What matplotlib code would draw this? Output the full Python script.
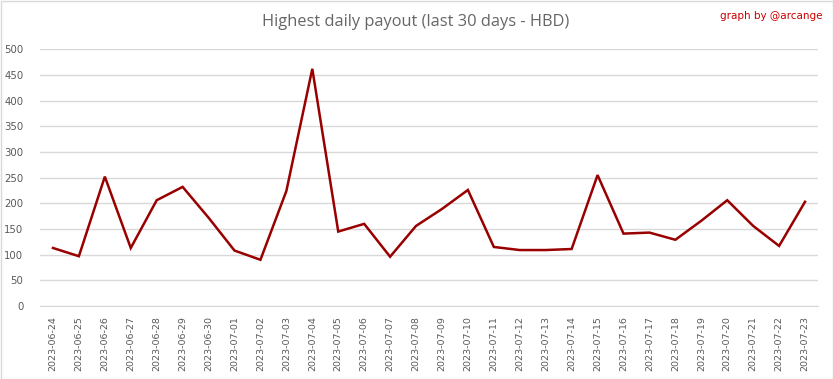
import matplotlib
matplotlib.use("Agg")
import matplotlib.pyplot as plt
from matplotlib.patches import Rectangle

dates = ["2023-06-24", "2023-06-25", "2023-06-26", "2023-06-27", "2023-06-28", "2023-06-29",
         "2023-06-30", "2023-07-01", "2023-07-02", "2023-07-03", "2023-07-04", "2023-07-05",
         "2023-07-06", "2023-07-07", "2023-07-08", "2023-07-09", "2023-07-10", "2023-07-11",
         "2023-07-12", "2023-07-13", "2023-07-14", "2023-07-15", "2023-07-16", "2023-07-17",
         "2023-07-18", "2023-07-19", "2023-07-20", "2023-07-21", "2023-07-22", "2023-07-23"]
payout = [113, 97, 252, 113, 206, 232, 172, 108, 90, 224, 462, 145, 160, 96, 156,
          189, 226, 115, 109, 109, 111, 255, 141, 143, 129, 166, 206, 156, 117, 203]
yticks = list(range(0, 501, 50))

W, H = 833, 379
fig = plt.figure(figsize=(W / 100, H / 100), dpi=100)
fig.patch.set_facecolor("white")
L, R, T, B = 40, 818, 49.3, 306
ax = fig.add_axes([L / W, 1 - B / H, (R - L) / W, (B - T) / H])

x = list(range(len(dates)))
ax.plot(x, payout, color="#990000", lw=1.8, solid_joinstyle="miter", zorder=3)
ax.set_xlim(-0.5, len(dates) - 0.5)
ax.set_ylim(0, 500)
ax.set_yticks(yticks)
ax.set_yticklabels([str(v) for v in yticks])
ax.set_xticks(x)
ax.set_xticklabels(dates, rotation=90)
ax.grid(axis="y", color="#d9d9d9", lw=1)
ax.set_axisbelow(True)
for s in ["top", "right", "left"]:
    ax.spines[s].set_visible(False)
ax.spines["bottom"].set_color("#d9d9d9")
ax.tick_params(axis="both", length=0, colors="#595959")
ax.tick_params(axis="x", pad=7, labelsize=6.8)
ax.tick_params(axis="y", pad=12, labelsize=7.3)

fig.text(416 / W, 1 - 22 / H, "Highest daily payout (last 30 days - HBD)", ha="center", va="center",
         fontsize=11.8, color="#666666", family="Open Sans")
fig.text(822 / W, 1 - 16 / H, "graph by @arcange", ha="right", va="center",
         fontsize=7.5, color="#cc0000")
fig.add_artist(Rectangle((0.5 / W, 0.5 / H), (W - 1) / W, (H - 1) / H, transform=fig.transFigure,
                         fill=False, edgecolor="#d9d9d9", lw=1))
fig.savefig("out.png", dpi=100)
